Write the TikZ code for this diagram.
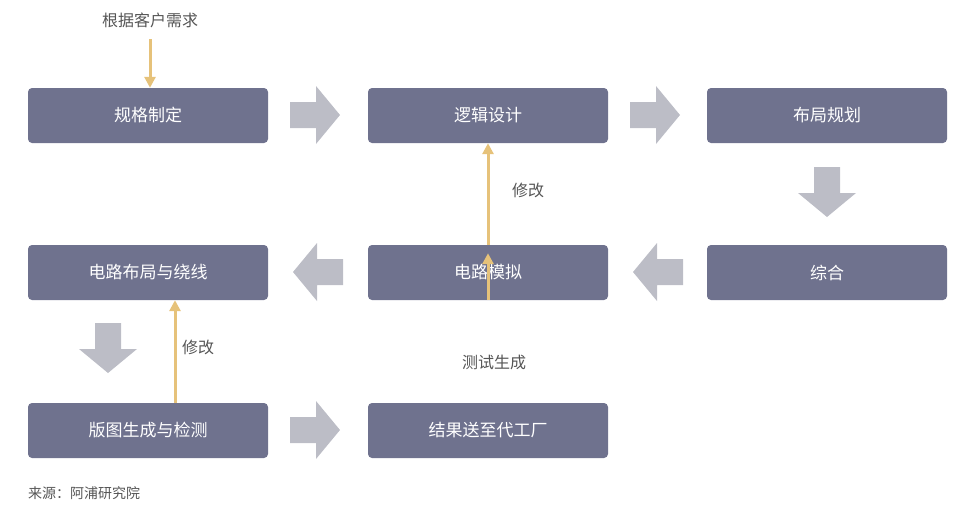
\documentclass[tikz,border=0pt]{standalone}
\usepackage{fontspec}
\setmainfont{Noto Sans CJK SC}
\usetikzlibrary{arrows.meta}
\definecolor{boxc}{HTML}{6F728E}
\definecolor{garr}{HTML}{BCBDC6}
\definecolor{yarr}{HTML}{E6C27A}
\definecolor{txt}{HTML}{555555}
\begin{document}
\begin{tikzpicture}[x=1pt,y=-1pt,
 box/.style={fill=boxc,rounded corners=4pt,minimum width=240pt,minimum height=55pt,text=white,font=\fontsize{17}{20}\selectfont,inner sep=0pt},
 lbl/.style={text=txt,font=\fontsize{16}{19}\selectfont,inner sep=0pt},
 yl/.style={draw=yarr,line width=3pt,-{Triangle[width=11pt,length=11pt]}},
 pics/barrow/.style={code={\fill[garr] (-25,-13)--(1,-13)--(1,-29)--(25,0)--(1,29)--(1,13)--(-25,13)--cycle;}}]
\useasboundingbox (0,0) rectangle (967,512);
\node[box] (a) at (148,115.5) {规格制定};
\node[box] (b) at (488,115.5) {逻辑设计};
\node[box] (c) at (827,115.5) {布局规划};
\node[box] (d) at (148,272.5) {电路布局与绕线};
\node[box] (e) at (488,272.5) {电路模拟};
\node[box] (f) at (827,272.5) {综合};
\node[box] (g) at (148,430.5) {版图生成与检测};
\node[box] (h) at (488,430.5) {结果送至代工厂};
\pic at (315,115) {barrow};
\pic at (655,115) {barrow};
\pic[rotate=-90] at (827,192) {barrow};
\pic[rotate=180] at (318,272) {barrow};
\pic[rotate=180] at (658,272) {barrow};
\pic[rotate=-90] at (108,348) {barrow};
\pic at (315,430) {barrow};
\node[lbl] (t1) at (150,20) {根据客户需求};
\node[lbl] (t2) at (528,190) {修改};
\node[lbl] (t3) at (198,347) {修改};
\node[lbl] (t4) at (494,362) {测试生成};
\node[lbl,anchor=west,font=\fontsize{14}{17}\selectfont] (src) at (28,493) {来源：阿浦研究院};
\coordinate (y1) at (150,39);
\draw[yl] (y1) -- (a.north -| y1);
\draw[yl] (e.north -| b.south) -- (b.south);
\draw[yl] (e.south) -- ([yshift=47pt]e.south);
\draw[yl] (g.north -| 175,0) -- (d.south -| 175,0);
\end{tikzpicture}
\end{document}
